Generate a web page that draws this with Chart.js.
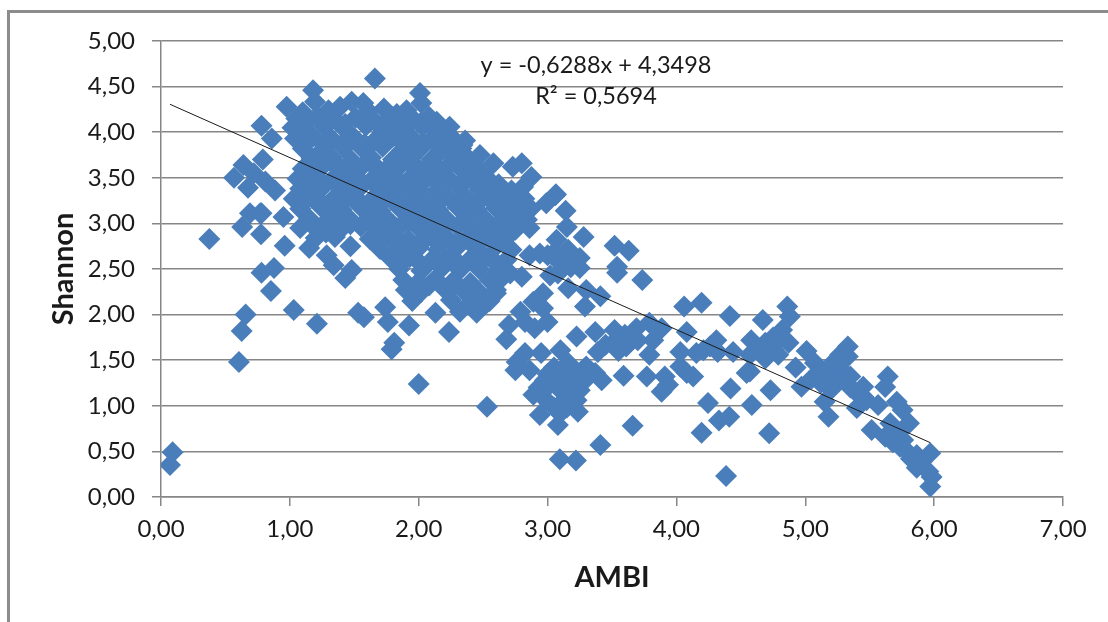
<!DOCTYPE html>
<html>
<head>
<meta charset="utf-8">
<title>AMBI / Shannon</title>
<script src="https://cdn.jsdelivr.net/npm/chart.js@4"></script>
<style>
body { margin: 0; background: #fff; }
#frame { position: absolute; left: 7px; top: 10px; width: 1101px; height: 612px; border-top: 3px solid #8c8c8c; border-left: 3px solid #8c8c8c; box-sizing: border-box; }
#chart1 { position: absolute; left: 0; top: 0; }
</style>
</head>
<body>
<div id="frame"></div>
<canvas id="chart1" width="1108" height="622"></canvas>
<script>
// values: [AMBI, Shannon]
var isolated = [
	[0.07,0.35],[0.09,0.49],[0.375,2.83],[0.605,1.48],[0.626,1.82],[0.657,2.0],[0.853,2.26],[0.78,2.46],[0.877,2.51],
	[1.03,2.05],[1.21,1.90],[0.776,2.88],[0.96,2.755],[0.63,2.96],[0.69,3.11],[0.78,3.11],[0.77,3.11],[0.95,3.07],
	[1.53,2.02],[1.575,1.97],[1.74,2.08],[1.76,1.92],[1.925,1.88],[1.81,1.69],[1.79,1.62],[2.0,1.24],[2.13,2.02],
	[2.235,1.81],[2.32,2.03],[2.45,2.02],[2.53,0.99],[1.15,2.73],[1.286,2.65],[1.34,2.54],[1.48,2.49],[1.43,2.40]
];
var cloudEdge = [
	[1.66,4.59],[1.18,4.46],[1.195,4.335],[0.975,4.28],[0.78,4.07],[0.86,3.93],[0.79,3.70],[0.64,3.64],[0.567,3.50],
	[0.675,3.39],[0.72,3.55],[0.81,3.46],[0.885,3.36],[1.48,4.335],[1.39,4.28],[1.57,4.32],[1.73,4.26],[2.01,4.43],
	[2.02,4.32],[1.905,4.24],[2.14,4.115],[2.24,4.06],[2.36,3.91],[2.475,3.75],[2.58,3.66],[2.80,3.66],[2.73,3.62],
	[2.875,3.51],[2.81,3.40],[3.06,3.31],[2.99,3.22],[2.84,3.04],[1.1,4.22],[1.3,4.24],[1.61,4.23],[1.83,4.2]
];
var cloud = [
	[1.05,4.15],[1.21,4.17],[1.35,4.14],[1.51,4.16],[1.65,4.13],[1.8,4.16],[1.96,4.14],[2.08,4.17],
	[1.02,4.05],[1.12,4.03],[1.27,4.06],[1.42,4.04],[1.59,4.07],[1.72,4.03],[1.88,4.05],[2.03,4.06],[2.15,4.02],
	[1.04,3.93],[1.18,3.95],[1.33,3.92],[1.5,3.94],[1.66,3.91],[1.8,3.95],[1.95,3.93],[2.1,3.92],[2.26,3.94],
	[1.1,3.82],[1.25,3.8],[1.42,3.83],[1.57,3.81],[1.72,3.84],[1.87,3.8],[2.02,3.83],[2.18,3.81],[2.33,3.82],
	[1.17,3.71],[1.33,3.72],[1.48,3.69],[1.63,3.72],[1.8,3.7],[1.95,3.73],[2.1,3.7],[2.26,3.72],[2.4,3.69],
	[1.1,3.6],[1.25,3.62],[1.4,3.59],[1.55,3.61],[1.7,3.58],[1.85,3.62],[2.0,3.6],[2.17,3.59],[2.32,3.61],[2.47,3.58],
	[1.06,3.49],[1.18,3.5],[1.33,3.48],[1.48,3.51],[1.63,3.47],[1.78,3.5],[1.93,3.49],[2.08,3.51],[2.24,3.48],[2.4,3.5],[2.55,3.47],
	[1.08,3.38],[1.25,3.39],[1.4,3.37],[1.55,3.4],[1.7,3.36],[1.85,3.39],[2.0,3.38],[2.15,3.37],[2.32,3.4],[2.47,3.37],[2.62,3.38],[2.72,3.36],
	[1.03,3.27],[1.17,3.28],[1.33,3.26],[1.48,3.29],[1.63,3.25],[1.78,3.28],[1.93,3.27],[2.08,3.26],[2.23,3.29],[2.38,3.26],[2.54,3.28],[2.68,3.25],[2.82,3.27],
	[1.08,3.16],[1.25,3.17],[1.4,3.15],[1.55,3.18],[1.7,3.14],[1.85,3.17],[2.0,3.16],[2.15,3.15],[2.3,3.18],[2.45,3.15],[2.6,3.17],[2.75,3.14],[2.87,3.16],
	[1.15,3.05],[1.32,3.06],[1.47,3.04],[1.62,3.07],[1.77,3.03],[1.92,3.06],[2.07,3.05],[2.22,3.04],[2.37,3.07],[2.52,3.04],[2.67,3.06],[2.82,3.05],
	[1.08,2.95],[1.24,2.96],[1.4,2.94],[1.55,2.97],[1.7,2.93],[1.85,2.96],[2.0,2.95],[2.15,2.94],[2.3,2.97],[2.45,2.94],[2.6,2.96],[2.75,2.93],[2.86,2.95],
	[1.2,2.84],[1.35,2.85],[1.62,2.83],[1.77,2.86],[1.92,2.82],[2.07,2.85],[2.22,2.84],[2.37,2.83],[2.52,2.86],[2.67,2.83],
	[1.47,2.75],[1.7,2.72],[1.85,2.74],[2.0,2.73],[2.15,2.71],[2.3,2.74],[2.45,2.72],[2.6,2.75],[2.72,2.71],
	[1.78,2.62],[1.93,2.63],[2.1,2.6],[2.25,2.63],[2.4,2.61],[2.55,2.64],[2.68,2.6],
	[1.85,2.5],[2.02,2.48],[2.18,2.51],[2.32,2.49],[2.47,2.5],[2.62,2.47],
	[1.88,2.38],[2.0,2.36],[2.13,2.39],[2.27,2.37],[2.4,2.35],[2.55,2.38],
	[1.9,2.27],[2.02,2.25],[2.2,2.28],[2.35,2.26],[2.48,2.23],[2.6,2.27],
	[1.95,2.15],[2.25,2.16],[2.4,2.13],[2.55,2.15]
];
var cloudInner = [
	[1.13,4.1],[1.28,4.11],[1.43,4.09],[1.58,4.11],[1.73,4.09],[1.88,4.1],[2.02,4.11],
	[1.11,3.88],[1.26,3.87],[1.41,3.88],[1.58,3.87],[1.73,3.89],[1.88,3.87],[2.03,3.88],[2.19,3.87],[2.34,3.86],
	[1.18,3.65],[1.33,3.66],[1.48,3.65],[1.63,3.66],[1.78,3.64],[1.93,3.66],[2.08,3.65],[2.25,3.66],[2.4,3.63],
	[1.12,3.44],[1.26,3.44],[1.41,3.43],[1.56,3.45],[1.71,3.42],[1.86,3.44],[2.01,3.43],[2.16,3.44],[2.32,3.43],[2.48,3.44],[2.62,3.43],
	[1.1,3.22],[1.25,3.22],[1.4,3.21],[1.55,3.23],[1.7,3.2],[1.85,3.22],[2.0,3.21],[2.15,3.22],[2.3,3.23],[2.45,3.21],[2.6,3.22],[2.75,3.2],
	[1.16,3.0],[1.32,3.01],[1.47,2.99],[1.62,3.01],[1.77,2.98],[1.92,3.01],[2.07,3.0],[2.22,2.99],[2.37,3.01],[2.52,2.99],[2.67,3.01],[2.78,2.99],
	[1.28,2.9],[1.7,2.78],[1.85,2.79],[2.0,2.78],[2.15,2.78],[2.3,2.79],[2.45,2.78],[2.6,2.8],
	[1.86,2.56],[2.02,2.55],[2.18,2.56],[2.32,2.55],[2.47,2.56],[2.6,2.56],
	[2.08,2.32],[2.27,2.31],[2.42,2.29]
];
var middle = [
	[3.065,3.32],[3.14,3.14],[3.15,2.96],[3.28,2.85],[3.52,2.755],[3.63,2.70],[3.54,2.525],[3.54,2.46],[3.735,2.38],
	[3.07,2.82],[2.86,2.65],[2.94,2.67],[3.16,2.71],[3.25,2.62],[3.10,2.56],[3.25,2.51],[3.02,2.43],[3.16,2.29],[3.30,2.27],
	[3.41,2.20],[3.29,2.09],[2.965,2.235],[2.89,2.14],[2.965,2.07],[2.79,2.03],[2.70,1.885],[2.68,1.73],[3.0,1.92],[2.90,1.85],
	[2.825,1.92],[2.71,2.45],[2.80,2.415],[2.60,2.235],[2.53,2.13],[2.63,2.38],[3.225,1.76],[3.37,1.81],[3.52,1.83],
	[3.39,1.59],[3.51,1.69],[3.61,1.65],[3.69,1.85],[3.79,1.91],[3.885,1.85],[3.82,1.72],[3.79,1.56],[3.77,1.32],[3.59,1.33],
	[3.91,1.32],[3.885,1.155],[3.935,1.23],[3.42,1.28],[4.03,1.59],[4.03,1.43],[4.13,1.32],[4.08,1.36],[4.155,1.58],
	[2.76,1.48],[2.75,1.39],[2.86,1.39],[2.825,1.58],[2.95,1.58],[3.10,1.61],[3.16,1.47],[3.30,1.43],[3.135,1.32],[3.0,1.21],
	[2.89,1.12],[2.99,1.06],[2.94,0.90],[3.10,1.17],[3.225,1.06],[3.08,0.79],[3.10,0.92],[3.235,0.935],[3.25,1.17],[3.37,1.36],
	[3.29,1.28],[2.98,1.28],[3.2,1.38],[3.05,1.42],[3.66,0.78],[3.41,0.57],[3.095,0.415],[3.22,0.40],
	[3.0,1.35],[3.12,1.05],[3.18,1.25],[3.06,1.27],[3.2,1.13],[2.93,1.2],[3.05,0.98],[3.15,0.98],[3.28,1.4],
	[3.45,1.67],[3.6,1.78],[3.7,1.72],[3.55,1.6],[3.0,2.65],[3.05,2.68],[3.2,2.6],[3.12,2.65],[3.18,2.52],[3.08,2.45]
];
var rightTail = [
	[4.06,2.09],[4.195,2.13],[4.415,1.985],[4.08,1.81],[4.67,1.94],[4.86,2.09],[4.88,1.98],[4.82,1.83],[4.58,1.72],[4.31,1.72],
	[4.26,1.65],[4.44,1.59],[4.32,1.59],[4.21,1.61],[4.57,1.56],[4.69,1.69],[4.69,1.52],[4.79,1.56],[4.87,1.69],[4.75,1.62],
	[4.57,1.375],[4.545,1.36],[4.42,1.19],[4.73,1.17],[4.245,1.03],[4.585,1.01],[4.41,0.88],[4.33,0.84],[4.72,0.70],[4.195,0.705],[4.385,0.23],
	[5.01,1.60],[4.925,1.42],[4.97,1.21],[5.075,1.47],[5.05,1.30],[5.165,1.39],[5.15,1.045],[5.18,0.88],[5.24,1.28],[5.12,1.25],[5.2,1.18],
	[5.27,1.56],[5.33,1.65],[5.33,1.54],[5.28,1.39],[5.22,1.48],[5.40,1.14],[5.45,1.21],[5.475,1.06],[5.40,0.975],[5.35,1.2],[5.64,1.32],[5.62,1.205],
	[5.565,1.01],[5.71,1.045],[5.755,0.955],[5.805,0.81],[5.515,0.735],[5.62,0.66],[5.66,0.81],[5.735,0.55],[5.76,0.625],
	[5.865,0.46],[5.97,0.48],[5.865,0.32],[5.955,0.28],[5.98,0.22],[5.97,0.115],[5.67,0.715],[5.79,0.5],
	[5.12,1.36],[5.18,1.3],[5.3,1.3],[5.2,1.42],[5.35,1.32],[5.45,1.1],[5.72,0.7],[5.68,0.6],[5.82,0.42],[5.9,0.38],
	[4.78,1.7],[4.75,1.75],[4.64,1.62]
];

var trendAmbi = [0.07, 5.97];
var trendShannon = [4.306, 0.596];
var yTicks = [0, 0.5, 1, 1.5, 2, 2.5, 3, 3.5, 4, 4.5, 5];
var equation = "y = -0,6288x + 4,3498";
var rSquared = "R² = 0,5694";

var allPoints = isolated.concat(cloudEdge, cloud, cloudInner, middle, rightTail).map(function (p) {
	return { x: p[0], y: p[1] };
});
var trendPoints = trendAmbi.map(function (v, i) {
	return { x: v, y: trendShannon[i] };
});

function commaLabel(value) {
	return Number(value).toFixed(2).replace(".", ",");
}

var labelFont = "Lato, sans-serif";

// trendline label, placed in pixels like the label box in the original
var trendLabel = {
	id: "trendLabel",
	afterDraw: function (chart) {
		var c = chart.ctx;
		c.save();
		c.fillStyle = "#1a1a1a";
		c.font = "23.5px " + labelFont;
		c.textAlign = "center";
		c.textBaseline = "middle";
		c.fillText(equation, 596, 65);
		c.fillText(rSquared, 596, 96);
		c.restore();
	}
};

var ctx1 = document.getElementById("chart1");

var chart1 = new Chart(ctx1, {
	type: "scatter",
	data: {
		datasets: [
			{
				label: "Trend",
				type: "line",
				data: trendPoints,
				borderColor: "#1a1a1a",
				borderWidth: 1,
				pointRadius: 0,
				fill: false,
				order: 0
			},
			{
				label: "Shannon",
				data: allPoints,
				pointStyle: "rectRot",
				pointRadius: 11,
				pointBorderWidth: 0,
				backgroundColor: "#4a7ebb",
				borderColor: "#4a7ebb",
				order: 1
			}
		]
	},
	options: {
		responsive: false,
		animation: false,
		layout: { padding: { top: 41, right: 45, left: 0, bottom: 0 } },
		plugins: {
			legend: { display: false },
			title: { display: false },
			tooltip: { enabled: false }
		},
		scales: {
			x: {
				type: "linear",
				min: 0,
				max: 7,
				afterFit: function (scale) { scale.height = 125; },
				grid: { color: "#868686", lineWidth: 1.5, drawOnChartArea: false, tickLength: 9 },
				border: { color: "#868686", width: 1.5 },
				ticks: {
					stepSize: 1,
					maxRotation: 0,
					padding: 9,
					color: "#1a1a1a",
					font: { family: labelFont, size: 24 },
					callback: commaLabel
				},
				title: {
					display: true,
					text: "AMBI",
					color: "#1a1a1a",
					padding: { top: 12, bottom: 27 },
					font: { family: labelFont, size: 29, weight: "bold" }
				}
			},
			y: {
				type: "linear",
				min: 0,
				max: 5,
				afterFit: function (scale) { scale.width = 161; },
				afterBuildTicks: function (scale) {
					scale.ticks = yTicks.map(function (v) { return { value: v }; });
				},
				grid: { color: "#868686", lineWidth: 1.5, tickLength: 9 },
				border: { color: "#868686", width: 1.5 },
				ticks: {
					padding: 17,
					color: "#1a1a1a",
					font: { family: labelFont, size: 24 },
					callback: commaLabel
				},
				title: {
					display: true,
					text: "Shannon",
					color: "#1a1a1a",
					padding: { top: 46, bottom: 10 },
					font: { family: labelFont, size: 29, weight: "bold" }
				}
			}
		}
	},
	plugins: [trendLabel]
});
</script>
</body>
</html>
